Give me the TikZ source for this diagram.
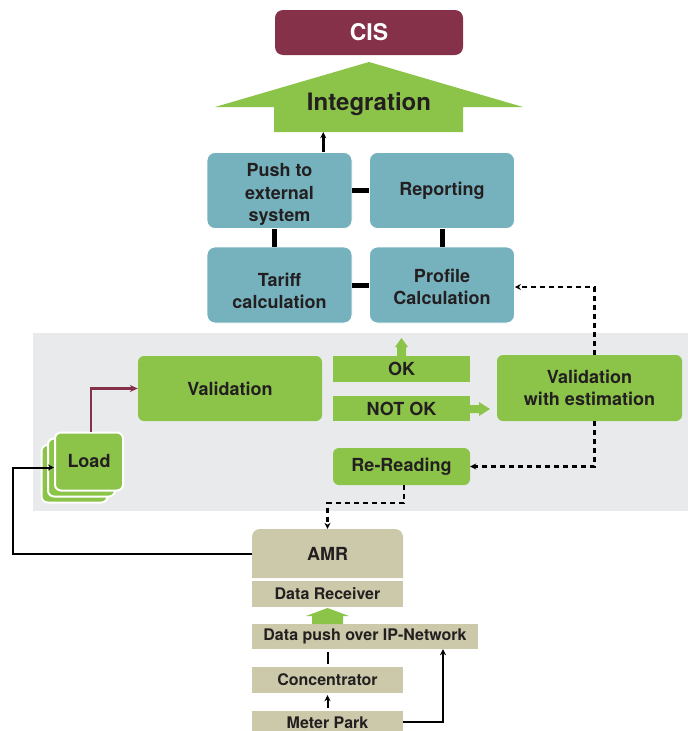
\documentclass[tikz,border=0pt]{standalone}
\usepackage{fontspec}
\setmainfont{TeX Gyre Heros}
\usetikzlibrary{arrows.meta,calc}
\definecolor{cgreen}{HTML}{8CC44A}
\definecolor{cteal}{HTML}{75B2BE}
\definecolor{cmaroon}{HTML}{85314A}
\definecolor{ckhaki}{HTML}{CBC9AA}
\definecolor{cband}{HTML}{E9EAEC}
\definecolor{ctext}{HTML}{231F20}
\tikzset{
 box/.style={inner sep=0pt, align=center, text=ctext, font=\bfseries\fontsize{18}{22.5}\selectfont},
 tealbox/.style={box, fill=cteal, rounded corners=8pt, draw=white, line width=0.8pt, minimum width=145pt, minimum height=76pt},
 greenbox/.style={box, fill=cgreen, rounded corners=6pt},
 flatbox/.style={box, fill=cgreen, minimum width=137pt},
 khakibox/.style={box, fill=ckhaki, minimum width=151pt, font=\bfseries\fontsize{16}{19}\selectfont},
 thickcon/.style={line width=5pt},
 dashcon/.style={dash pattern=on 5pt off 4pt, line width=2.2pt, -{Stealth[length=6pt,width=6pt]}},
 solidarrow/.style={line width=2pt, -{Stealth[length=6pt,width=6pt]}},
}
\begin{document}
\begin{tikzpicture}[x=1pt,y=-1pt]
\useasboundingbox (0,0) rectangle (692,731);
\fill[cband] (33,333) rectangle (688,511);
% top
\node[box, fill=cmaroon, rounded corners=8pt, minimum width=188pt, minimum height=45pt, text=white, font=\bfseries\fontsize{23}{26}\selectfont] (cis) at (369,32.5) {CIS};
\fill[cgreen] (369,62) -- (523,107) -- (463,107) -- (463,132) -- (274,132) -- (274,107) -- (215,107) -- cycle;
\node[box, minimum width=189pt, minimum height=25pt] (integ) at (368.5,119.5) {};
\node[box, anchor=base, font=\bfseries\fontsize{24}{28}\selectfont] (integtext) at (369,110) {Integration};
% teal
\node[tealbox] (push) at (279.5,190.5) {\rule{0pt}{21pt}Push to\\external\\system};
\node[tealbox] (report) at (442,190.5) {Reporting};
\node[tealbox] (tariff) at (279.5,285) {\rule{0pt}{25pt}Tariff\\calculation};
\node[tealbox] (profile) at (442,285) {\rule{0pt}{17pt}Profile\\Calculation};
\coordinate (pushtop) at ($(push.north west)!0.8!(push.north east)$);
\draw[thickcon] (push.east) -- (report.west);
\draw[thickcon] ([xshift=-5pt]push.south) -- ([xshift=-5pt]tariff.north);
\draw[thickcon] (report.south) -- (profile.north);
\draw[thickcon] (tariff.east) -- (profile.west);
\draw[solidarrow, line width=2.6pt] (pushtop) -- (pushtop |- integ.south);
% validation band
\node[greenbox, minimum width=184pt, minimum height=65pt] (valid) at (230,388.5) {Validation};
\node[flatbox, minimum height=26pt] (ok) at (401.5,369) {OK};
\node[flatbox, minimum height=25pt] (notok) at (401.5,408.5) {NOT OK};
\node[greenbox, minimum width=185pt, minimum height=66pt] (valest) at (589.5,388) {Validation\\with estimation};
\node[greenbox, minimum width=137pt, minimum height=37pt] (reread) at (401.5,466.5) {Re-Reading};
\fill[cgreen] (397,357) -- (397,347) -- (395,347) -- (401.5,338) -- (408,347) -- (406,347) -- (406,357) -- cycle;
\fill[cgreen] (470,405) -- (479,405) -- (479,402) -- (490,409) -- (479,416) -- (479,413) -- (470,413) -- cycle;
% load cards
\filldraw[fill=cgreen, draw=white, line width=2pt, rounded corners=6pt] (41.5,445) rectangle (107.5,502.5);
\filldraw[fill=cgreen, draw=white, line width=2pt, rounded corners=6pt] (48,438.5) rectangle (115,496.5);
\node[greenbox, draw=white, line width=2pt, minimum width=68pt, minimum height=58pt] (load) at (89,461.5) {Load};
% bottom
\fill[ckhaki] (252,578) [rounded corners=8pt] -- (252,529) -- (403,529) [sharp corners] -- (403,578) -- cycle;
\node[box, minimum width=151pt, minimum height=49pt] (amr) at (327.5,553.5) {AMR};
\node[khakibox, minimum height=26pt] (recv) at (327.5,594) {Data Receiver};
\node[khakibox, minimum width=226pt, minimum height=25pt] (dpush) at (365,636.5) {Data push over IP-Network};
\node[khakibox, minimum height=26pt] (conc) at (327.5,680) {Concentrator};
\node[khakibox, minimum height=24pt] (meter) at (327.5,723) {Meter Park};
\fill[cgreen] (312,624) -- (312,616) -- (306,616) -- (327.5,608) -- (349,616) -- (343,616) -- (343,624) -- cycle;
% connectors
\draw[cmaroon, line width=2.2pt, -{Stealth[length=8pt,width=7pt]}] ([xshift=2pt]load.north) |- (valid.west);
\draw[dashcon] ([xshift=5pt]valest.north) |- ([yshift=-2pt]profile.east);
\draw[dashcon] ([xshift=5pt]valest.south) |- (reread.east);
\draw[dashcon] ([xshift=2.5pt]reread.south) -- ++(0,18) -| (amr.north);
\draw[line width=2pt, shorten <=3pt, shorten >=3pt] (conc.north) -- (conc.north |- dpush.south);
\draw[solidarrow, shorten <=3pt, shorten >=2pt] (meter.north) -- (conc.south);
\draw[solidarrow] ([yshift=1pt]meter.east) -| ([xshift=78pt]dpush.south);
\draw[solidarrow] (amr.west) -- ++(-239,0) |- ([yshift=-6pt]load.west);
\end{tikzpicture}
\end{document}
